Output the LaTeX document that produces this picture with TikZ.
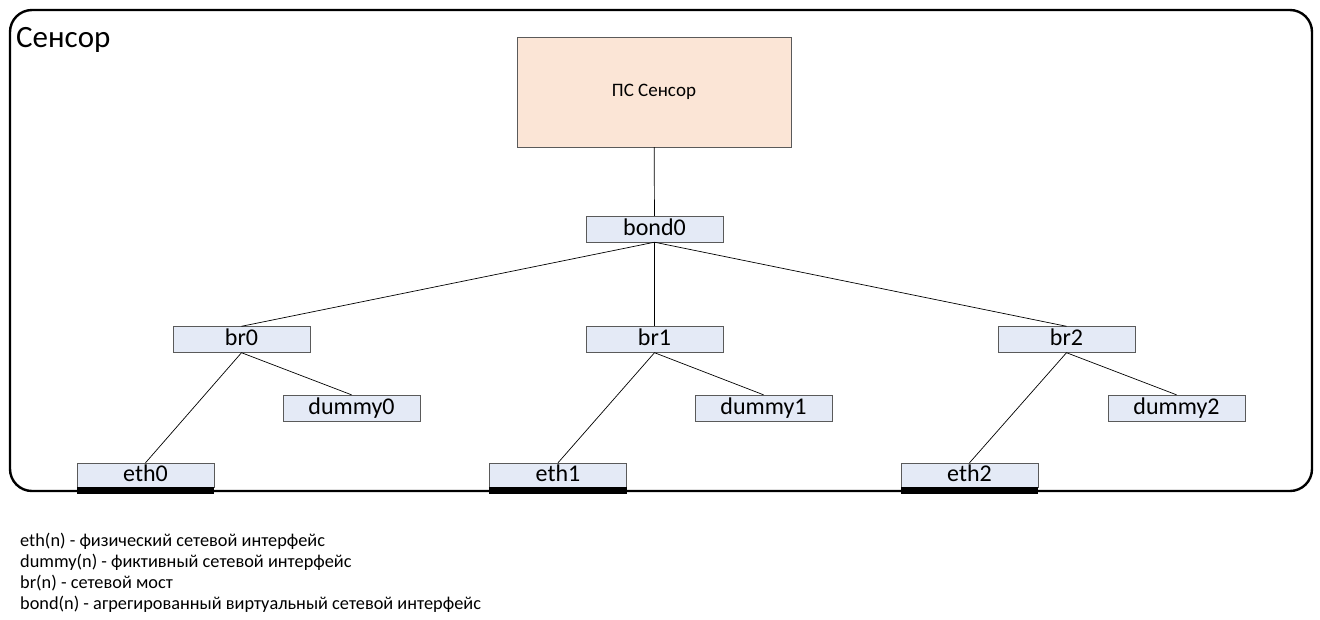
\documentclass[tikz,border=0pt]{standalone}
\usepackage{fontspec}
\setmainfont{Carlito}
\definecolor{ifblue}{HTML}{E4EAF6}
\definecolor{pspeach}{HTML}{FBE5D6}
\definecolor{boxgray}{HTML}{5A5A5A}

\begin{document}
\begin{tikzpicture}[x=1pt, y=-1pt, font=\fontsize{24}{28}\selectfont,
    iface/.style={draw=boxgray, fill=ifblue, minimum width=137pt, minimum height=26pt, inner sep=0pt, text height=16pt, text depth=4pt},
    link/.style={draw, line width=0.7pt}]
    \useasboundingbox (0,0) rectangle (1320,619);
    \draw[line width=2.4pt, rounded corners=22pt] (10,10) rectangle (1312,491);
    \node[anchor=base west, inner sep=0pt, font=\fontsize{31}{36}\selectfont] (sensor) at (16,47) {Сенсор};

    \node (ps) [draw=boxgray, fill=pspeach, minimum width=274pt, minimum height=110pt, font=\fontsize{19}{22}\selectfont] at (654,92) {ПС Сенсор};
    \node (bond0) [iface] at (654.5,229) {bond0};

    \node (br0) [iface] at (241.5,339.5) {br0};
    \node (br1) [iface] at (654.5,339.5) {br1};
    \node (br2) [iface] at (1066.5,339.5) {br2};

    \node (dummy0) [iface] at (351.5,408) {dummy0};
    \node (dummy1) [iface] at (763.5,408) {dummy1};
    \node (dummy2) [iface] at (1176.5,408) {dummy2};

    \node (eth0) [iface, minimum height=24pt] at (145.5,475) {eth0};
    \node (eth1) [iface, minimum height=24pt] at (558,475) {eth1};
    \node (eth2) [iface, minimum height=24pt] at (969.5,475) {eth2};
    \fill (eth0.south west) rectangle ([yshift=-7pt]eth0.south east);
    \fill (eth1.south west) rectangle ([yshift=-7pt]eth1.south east);
    \fill (eth2.south west) rectangle ([yshift=-7pt]eth2.south east);

    \draw[link] (ps) -- (bond0);
    \draw[link] (bond0.south) -- (br0.north);
    \draw[link] (bond0.south) -- (br1.north);
    \draw[link] (bond0.south) -- (br2.north);
    \draw[link] (br0.south) -- (eth0.north);
    \draw[link] (br0.south) -- (dummy0.north);
    \draw[link] (br1.south) -- (eth1.north);
    \draw[link] (br1.south) -- (dummy1.north);
    \draw[link] (br2.south) -- (eth2.north);
    \draw[link] (br2.south) -- (dummy2.north);

    \node (legend) [anchor=base west, align=left, inner sep=0pt, font=\fontsize{18.3}{20.7}\selectfont] at (20,609)
        {eth(n) - физический сетевой интерфейс\\
         dummy(n) - фиктивный сетевой интерфейс\\
         br(n) - сетевой мост\\
         bond(n) - агрегированный виртуальный сетевой интерфейс};
\end{tikzpicture}
\end{document}
